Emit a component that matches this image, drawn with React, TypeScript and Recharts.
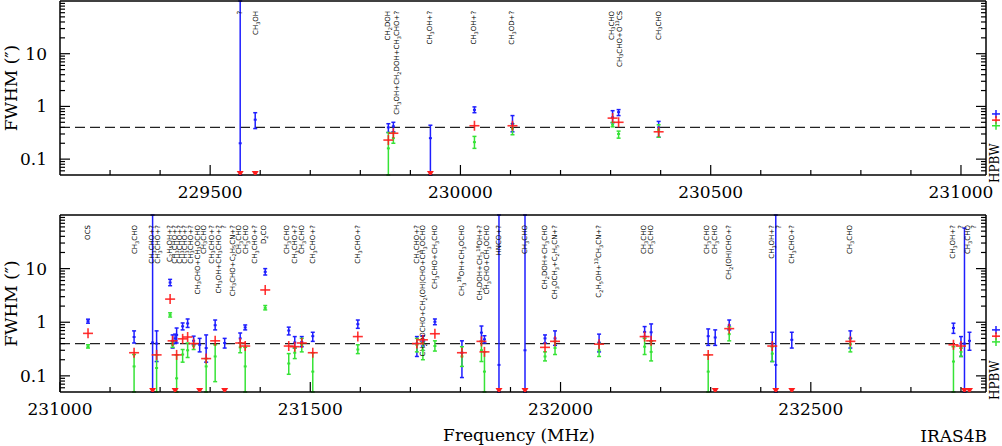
import React from 'react';
import { ComposedChart, Scatter, ErrorBar, XAxis, YAxis, ReferenceLine } from 'recharts';

type Bar = [number, number, number, number]; // [freq MHz, value, low end, high end]
type Pt = [number, number];
type Lab = [number, string];

// ---------- axes ----------
const TOP_X_DOMAIN: [number, number] = [229200, 231050];
const BOTTOM_X_DOMAIN: [number, number] = [231000, 232850];
const Y_DOMAIN: [number, number] = [0.05, 100];
const TOP_X_TICKS = [229300, 229400, 229500, 229600, 229700, 229800, 229900, 230000, 230100, 230200, 230300, 230400, 230500, 230600, 230700, 230800, 230900, 231000];
const BOTTOM_X_TICKS = [231000, 231100, 231200, 231300, 231400, 231500, 231600, 231700, 231800, 231900, 232000, 232100, 232200, 232300, 232400, 232500, 232600, 232700, 232800];
const X_MAJOR_STEP = 500;
const Y_TICKS = [0.06, 0.07, 0.08, 0.09, 0.1, 0.2, 0.3, 0.4, 0.5, 0.6, 0.7, 0.8, 0.9, 1, 2, 3, 4, 5, 6, 7, 8, 9, 10, 20, 30, 40, 50, 60, 70, 80, 90];
const Y_MAJOR = [0.1, 1, 10];
const DASH_Y = 0.4;
const HPBW = [0.72, 0.55, 0.43]; // blue, red, green
const LABEL_Y = 65;

// ---------- top panel ----------
const topBlue: Bar[] = [
  [229560, 0.2, 0.05, 100],
  [229590, 0.56, 0.38, 0.76],
  [229856, 0.4, 0.32, 0.47],
  [229866, 0.42, 0.33, 0.5],
  [229940, 0.25, 0.05, 0.44],
  [230028, 0.86, 0.76, 0.98],
  [230104, 0.47, 0.33, 0.67],
  [230304, 0.62, 0.49, 0.83],
  [230316, 0.78, 0.67, 0.87],
  [230396, 0.4, 0.26, 0.52],
];
const topGreen: Bar[] = [
  [229856, 0.16, 0.05, 0.32],
  [229866, 0.25, 0.2, 0.32],
  [230028, 0.21, 0.16, 0.27],
  [230104, 0.38, 0.29, 0.47],
  [230304, 0.45, 0.41, 0.5],
  [230316, 0.3, 0.25, 0.34],
  [230396, 0.36, 0.26, 0.45],
];
const topRed: Pt[] = [
  [229856, 0.23], [229866, 0.31], [230028, 0.43], [230104, 0.43], [230304, 0.6], [230316, 0.5], [230396, 0.33],
];
const topLimits: number[] = [229560, 229590, 229940];
const topLabels: Lab[] = [
  [229560, '?'],
  [229592, 'CH_3OH'],
  [229856, 'CH_2DOH'],
  [229874, 'CH_3OH+CH_2DOH+CH_3CHO+?'],
  [229940, 'CH_3OH+?'],
  [230028, 'CH_3OH+?'],
  [230104, 'CH_3OD+?'],
  [230302, 'CH_3CHO'],
  [230318, 'CH_3CHO+O^13CS'],
  [230396, 'CH_3CHO'],
];

// ---------- bottom panel ----------
const botBlue: Bar[] = [
  [231056, 1.05, 0.96, 1.14],
  [231148, 0.53, 0.41, 0.69],
  [231185, 0.42, 0.05, 100],
  [231193, 0.4, 0.185, 0.69],
  [231220, 5.5, 4.8, 6.3],
  [231225, 0.45, 0.33, 0.58],
  [231230, 0.5, 0.4, 0.6],
  [231233, 0.58, 0.41, 0.78],
  [231245, 0.84, 0.72, 0.97],
  [231255, 0.95, 0.8, 1.15],
  [231267, 0.45, 0.38, 0.55],
  [231279, 0.38, 0.28, 0.5],
  [231292, 0.33, 0.18, 0.58],
  [231310, 0.88, 0.72, 1.1],
  [231329, 0.41, 0.33, 0.5],
  [231360, 0.5, 0.41, 0.63],
  [231370, 0.8, 0.72, 0.89],
  [231410, 8.7, 7.6, 10],
  [231457, 0.7, 0.58, 0.81],
  [231469, 0.42, 0.33, 0.54],
  [231483, 0.43, 0.35, 0.54],
  [231505, 0.55, 0.44, 0.65],
  [231595, 0.92, 0.77, 1.1],
  [231713, 0.4, 0.23, 0.54],
  [231725, 0.45, 0.36, 0.56],
  [231749, 1.02, 0.9, 1.15],
  [231803, 0.27, 0.093, 0.45],
  [231842, 0.64, 0.44, 0.85],
  [231848, 0.48, 0.41, 0.56],
  [231877, 0.16, 0.05, 100],
  [231929, 0.3, 0.05, 100],
  [231969, 0.5, 0.41, 0.58],
  [231989, 0.5, 0.37, 0.69],
  [232077, 0.42, 0.28, 0.6],
  [232168, 0.66, 0.54, 0.83],
  [232181, 0.65, 0.44, 0.93],
  [232295, 0.55, 0.37, 0.75],
  [232309, 0.52, 0.37, 0.72],
  [232337, 0.88, 0.72, 1.1],
  [232423, 0.4, 0.185, 0.65],
  [232430, 0.16, 0.05, 100],
  [232462, 0.47, 0.33, 0.65],
  [232579, 0.5, 0.33, 0.69],
  [232785, 0.78, 0.62, 0.96],
  [232800, 0.4, 0.23, 0.54],
  [232807, 0.4, 0.05, 57],
  [232817, 0.45, 0.3, 0.65],
];
const botGreen: Bar[] = [
  [231056, 0.35, 0.33, 0.38],
  [231148, 0.15, 0.05, 0.25],
  [231193, 0.14, 0.05, 0.246],
  [231220, 1.37, 1.25, 1.5],
  [231225, 0.38, 0.34, 0.43],
  [231233, 0.09, 0.05, 0.246],
  [231245, 0.25, 0.18, 0.31],
  [231255, 0.3, 0.22, 0.41],
  [231267, 0.36, 0.31, 0.4],
  [231292, 0.15, 0.05, 0.21],
  [231310, 0.23, 0.078, 0.38],
  [231360, 0.34, 0.27, 0.41],
  [231370, 0.15, 0.05, 0.34],
  [231410, 1.85, 1.7, 2.05],
  [231457, 0.17, 0.107, 0.26],
  [231469, 0.27, 0.21, 0.33],
  [231483, 0.38, 0.28, 0.5],
  [231505, 0.12, 0.05, 0.27],
  [231595, 0.31, 0.26, 0.38],
  [231713, 0.38, 0.28, 0.5],
  [231725, 0.3, 0.2, 0.41],
  [231749, 0.36, 0.29, 0.45],
  [231803, 0.23, 0.15, 0.35],
  [231842, 0.3, 0.185, 0.44],
  [231848, 0.12, 0.05, 0.28],
  [231969, 0.23, 0.19, 0.28],
  [231989, 0.33, 0.25, 0.44],
  [232077, 0.3, 0.23, 0.41],
  [232168, 0.35, 0.25, 0.5],
  [232181, 0.28, 0.19, 0.44],
  [232295, 0.12, 0.05, 0.246],
  [232337, 0.6, 0.45, 0.82],
  [232423, 0.26, 0.185, 0.35],
  [232579, 0.39, 0.28, 0.5],
  [232785, 0.185, 0.05, 0.35],
  [232800, 0.28, 0.23, 0.33],
];
const botRed: Pt[] = [
  [231056, 0.62], [231148, 0.27], [231193, 0.246], [231220, 2.7], [231225, 0.45], [231233, 0.246],
  [231245, 0.49], [231255, 0.53], [231267, 0.4], [231292, 0.21], [231310, 0.45], [231360, 0.41],
  [231370, 0.36], [231410, 4.0], [231457, 0.36], [231469, 0.35], [231483, 0.41], [231505, 0.27],
  [231595, 0.54], [231713, 0.4], [231725, 0.47], [231749, 0.61], [231803, 0.27], [231842, 0.44],
  [231848, 0.28], [231969, 0.34], [231989, 0.44], [232077, 0.39], [232168, 0.54], [232181, 0.45],
  [232295, 0.246], [232337, 0.76], [232423, 0.36], [232579, 0.44], [232785, 0.38], [232800, 0.36],
];
const botLimits: number[] = [231185, 231230, 231279, 231329, 231877, 231929, 232309, 232430, 232462, 232807, 232817];
const botLabels: Lab[] = [
  [231056, 'OCS'], [231150, 'CH_3CHO'], [231184, 'CH_3CHO+?'], [231196, 'CH_3CHO+?'],
  [231219, 'C_2H_5OH+?'], [231230, 'CH_3CHO+?'], [231240, 'CH_3CHO+?'], [231250, 'CH_3CHO+?'],
  [231261, 'CH_3CHO+?'], [231275, 'CH_3CHO+CH_3OCHO'], [231287, 'CH_3CHO'], [231303, 'CH_3CHO+?'],
  [231317, 'CH_3OH+CH_3CHO+?'], [231328, '?'], [231345, 'CH_3CHO+C_2H_5CN+?'], [231357, 'CH_3CHO'],
  [231372, 'CH_3CHO'], [231390, 'CH_3CHO+?'], [231408, 'D_2CO'], [231454, 'CH_3CHO'],
  [231469, 'CH_3CHO+?'], [231483, 'CH_3CHO'], [231505, 'CH_3CHO+?'], [231595, 'CH_3CHO+?'],
  [231713, 'CH_3CHO+?'], [231725, 'CH_2DOCHO+CH_2(OH)CHO+CH_3OCHO'], [231749, 'CH_3CHO+CH_3CHO'],
  [231803, 'CH_3^18OH+CH_3OCHO'], [231840, 'CH_2DOH+CH_3^18OH+?'], [231853, 'CH_3CHO+CH_3OCHO'],
  [231877, 'HNCO+?'], [231929, 'CH_3CHO'], [231969, 'CH_2DOH+CH_3CHO'], [231989, 'CH_3OCH_3+C_2H_5CN+?'],
  [232077, 'C_2H_5OH+^13CH_3CN+?'], [232167, 'CH_3CHO'], [232181, 'CH_3CHO'], [232293, 'CH_3CHO'],
  [232308, 'CH_3CHO'], [232337, 'CH_2(OH)CHO+?'], [232423, 'CH_3OH+?'], [232437, '?'],
  [232462, 'CH_3CHO+?'], [232579, 'CH_3CHO'], [232785, 'CH_3OH+?'], [232800, '?'],
  [232815, 'CH_3CHO'], [232827, '?'],
];

// ---------- styling ----------
const BLUE = '#1e1eff';
const RED = '#ff1c1c';
const GREEN = '#36e336';
const SERIF = "'DejaVu Serif', serif";
const AX = { stroke: '#000', strokeWidth: 1.5 };

const toBars = (rows: Bar[]) => rows.map(([x, y, lo, hi]) => ({ x, y, err: [y - lo, hi - y] }));
const toPts = (rows: Pt[]) => rows.map(([x, y]) => ({ x, y }));
const toLimits = (xs: number[]) => xs.map((x) => ({ x, y: Y_DOMAIN[0] }));
const toLabels = (rows: Lab[]) => rows.map(([x, t]) => ({ x, y: LABEL_Y, t }));

function chem(s: string) {
  const out: React.ReactNode[] = [];
  const re = /([_^])(\d+)|([^_^]+)/g;
  let m: RegExpExecArray | null;
  let shift = 0;
  let k = 0;
  while ((m = re.exec(s))) {
    if (m[3]) {
      out.push(<tspan key={k++} dy={-shift} fontSize={7}>{m[3]}</tspan>);
      shift = 0;
    } else {
      const d = m[1] === '_' ? 1.8 : -2.8;
      out.push(<tspan key={k++} dy={d - shift} fontSize={5}>{m[2]}</tspan>);
      shift = d;
    }
  }
  return out;
}

const centerMark = (color: string) => (p: any) => (
  <line x1={p.cx - 1.5} x2={p.cx + 1.5} y1={p.cy} y2={p.cy} stroke={color} strokeWidth={2} />
);
const crossMark = (p: any) => (
  <g stroke={RED} strokeWidth={1.6} strokeOpacity={0.9}>
    <line x1={p.cx - 5} x2={p.cx + 5} y1={p.cy} y2={p.cy} />
    <line x1={p.cx} x2={p.cx} y1={p.cy - 5} y2={p.cy + 5} />
  </g>
);
const triMark = (p: any) => (
  <polygon points={`${p.cx - 3.5},${p.cy - 4} ${p.cx + 3.5},${p.cy - 4} ${p.cx},${p.cy + 1.5}`} fill={RED} />
);
const labelMark = (p: any) => (
  <text
    transform={`translate(${p.cx},${p.cy}) rotate(-90)`}
    textAnchor="end"
    dominantBaseline="central"
    fontFamily="'DejaVu Sans', sans-serif"
    fontSize={7}
    fill="#000"
  >
    {chem(p.payload.t)}
  </text>
);

const BottomTick = (p: any) => {
  const v = p.payload.value;
  const major = v % X_MAJOR_STEP === 0;
  return (
    <g>
      <line x1={p.x} x2={p.x} y1={p.y} y2={p.y - (major ? 10 : 5)} stroke="#000" strokeWidth={1.2} />
      {major && (
        <text x={p.x} y={p.y + 23} textAnchor="middle" fontFamily={SERIF} fontSize={17} fill="#000">
          {v}
        </text>
      )}
    </g>
  );
};
const TopTick = (p: any) => {
  const major = p.payload.value % X_MAJOR_STEP === 0;
  return <line x1={p.x} x2={p.x} y1={p.y} y2={p.y + (major ? 10 : 5)} stroke="#000" strokeWidth={1.2} />;
};
const LeftTick = (p: any) => {
  const v = p.payload.value;
  const major = Y_MAJOR.includes(v);
  return (
    <g>
      <line x1={p.x} x2={p.x + (major ? 10 : 5)} y1={p.y} y2={p.y} stroke="#000" strokeWidth={1.2} />
      {major && (
        <text x={p.x - 13} y={p.y + 6} textAnchor="end" fontFamily={SERIF} fontSize={17} fill="#000">
          {String(v)}
        </text>
      )}
    </g>
  );
};
const HPBW_COLORS = [BLUE, RED, GREEN];
const RightTick = (p: any) => {
  const v = p.payload.value;
  const h = HPBW.indexOf(v);
  if (h >= 0) {
    return (
      <g stroke={HPBW_COLORS[h]} strokeWidth={1.5}>
        <line x1={p.x + 6} x2={p.x + 14} y1={p.y} y2={p.y} />
        <line x1={p.x + 10} x2={p.x + 10} y1={p.y - 4} y2={p.y + 4} />
      </g>
    );
  }
  const major = Y_MAJOR.includes(v);
  return <line x1={p.x} x2={p.x - (major ? 10 : 5)} y1={p.y} y2={p.y} stroke="#000" strokeWidth={1.2} />;
};

const fwhmLabel = (p: any) => {
  const vb = p.viewBox || {};
  const cy = vb.y + vb.height / 2;
  return (
    <text transform={`translate(17,${cy}) rotate(-90)`} textAnchor="middle" fontFamily={SERIF} fontSize={17} fill="#000">
      FWHM (″)
    </text>
  );
};
const hpbwLabel = (p: any) => {
  const vb = p.viewBox || {};
  const bottom = vb.y + vb.height;
  return (
    <text transform={`translate(${vb.x + 12.5},${bottom + 8}) rotate(-90)`} textAnchor="start" fontFamily={SERIF} fontSize={12} fill="#000">
      HPBW
    </text>
  );
};
const freqLabel = (p: any) => {
  const vb = p.viewBox || {};
  return (
    <g fontFamily={SERIF} fontSize={17} fill="#000">
      <text x={vb.x + vb.width / 2 - 4} y={vb.y + vb.height - 5} textAnchor="middle">Frequency (MHz)</text>
      <text x={vb.x + vb.width + 1} y={vb.y + vb.height - 4} textAnchor="end">IRAS4B</text>
    </g>
  );
};

interface PanelProps {
  height: number;
  marginTop: number;
  bottomHeight: number;
  xDomain: [number, number];
  xTicks: number[];
  blue: Bar[];
  green: Bar[];
  red: Pt[];
  limits: number[];
  labels: Lab[];
  showXTitle: boolean;
}

function Panel(props: PanelProps) {
  const { height, marginTop, bottomHeight, xDomain, xTicks, blue, green, red, limits, labels, showXTitle } = props;
  return (
    <ComposedChart width={1002} height={height} margin={{ top: marginTop, right: 0, bottom: 0, left: 0 }}>
      <XAxis
        xAxisId="b"
        dataKey="x"
        type="number"
        domain={xDomain}
        allowDataOverflow
        ticks={xTicks}
        interval={0}
        height={bottomHeight}
        tickLine={false}
        tickSize={0}
        tickMargin={0}
        axisLine={AX}
        tick={BottomTick}
        label={showXTitle ? freqLabel : undefined}
      />
      <XAxis
        xAxisId="t"
        orientation="top"
        type="number"
        domain={xDomain}
        allowDataOverflow
        ticks={xTicks}
        interval={0}
        height={1}
        tickLine={false}
        tickSize={0}
        tickMargin={0}
        axisLine={AX}
        tick={TopTick}
      />
      <YAxis
        yAxisId="l"
        dataKey="y"
        type="number"
        scale="log"
        domain={Y_DOMAIN}
        allowDataOverflow
        ticks={Y_TICKS}
        interval={0}
        width={60}
        tickLine={false}
        tickSize={0}
        tickMargin={0}
        axisLine={AX}
        tick={LeftTick}
        label={fwhmLabel}
      />
      <YAxis
        yAxisId="r"
        orientation="right"
        type="number"
        scale="log"
        domain={Y_DOMAIN}
        allowDataOverflow
        ticks={[...Y_TICKS, ...HPBW]}
        interval={0}
        width={16}
        tickLine={false}
        tickSize={0}
        tickMargin={0}
        axisLine={AX}
        tick={RightTick}
        label={hpbwLabel}
      />
      <ReferenceLine xAxisId="b" yAxisId="l" y={DASH_Y} stroke="#222" strokeWidth={1.4} strokeDasharray="10 5" />
      <Scatter xAxisId="b" yAxisId="l" data={toLabels(labels)} shape={labelMark} isAnimationActive={false} />
      <Scatter xAxisId="b" yAxisId="l" data={toBars(blue)} shape={centerMark(BLUE)} isAnimationActive={false}>
        <ErrorBar dataKey="err" direction="y" width={2} stroke={BLUE} strokeWidth={1.5} isAnimationActive={false} />
      </Scatter>
      <Scatter xAxisId="b" yAxisId="l" data={toBars(green)} shape={centerMark(GREEN)} isAnimationActive={false}>
        <ErrorBar dataKey="err" direction="y" width={2} stroke={GREEN} strokeWidth={1.5} isAnimationActive={false} />
      </Scatter>
      <Scatter xAxisId="b" yAxisId="l" data={toPts(red)} shape={crossMark} isAnimationActive={false} />
      <Scatter xAxisId="b" yAxisId="l" data={toLimits(limits)} shape={triMark} isAnimationActive={false} />
    </ComposedChart>
  );
}

export default function App() {
  return (
    <div style={{ width: 1002, height: 446, background: '#fff', overflow: 'hidden' }}>
      <style>{'html,body{margin:0;padding:0;background:#fff;overflow:hidden}'}</style>
      <Panel
        height={210}
        marginTop={0}
        bottomHeight={35}
        xDomain={TOP_X_DOMAIN}
        xTicks={TOP_X_TICKS}
        blue={topBlue}
        green={topGreen}
        red={topRed}
        limits={topLimits}
        labels={topLabels}
        showXTitle={false}
      />
      <Panel
        height={236}
        marginTop={4}
        bottomHeight={54}
        xDomain={BOTTOM_X_DOMAIN}
        xTicks={BOTTOM_X_TICKS}
        blue={botBlue}
        green={botGreen}
        red={botRed}
        limits={botLimits}
        labels={botLabels}
        showXTitle={true}
      />
    </div>
  );
}
